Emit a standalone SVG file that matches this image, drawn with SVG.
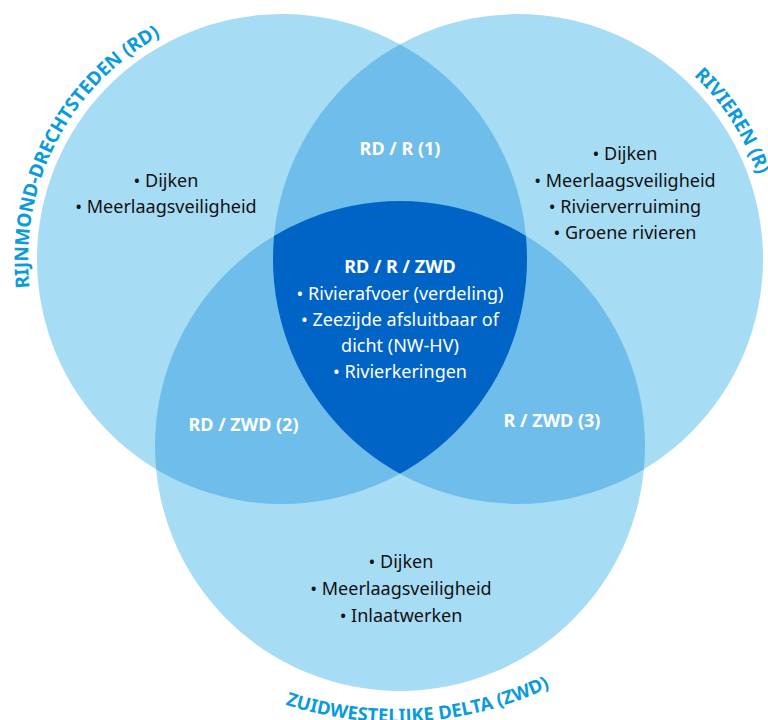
<svg xmlns="http://www.w3.org/2000/svg" width="768" height="720" viewBox="0 0 768 720">
<style>
.light{fill:#a7dcf5}
.mid{fill:#6ebdea}
.dark{fill:#0064c6}
.body{font-family:"Noto Sans","DejaVu Sans",sans-serif;font-size:18px;fill:#111;text-anchor:middle}
.wb{font-family:"Noto Sans","DejaVu Sans",sans-serif;font-size:18px;fill:#fff;text-anchor:middle}
.b{font-weight:bold}
.title{font-family:"Noto Sans","DejaVu Sans",sans-serif;font-size:19px;font-weight:bold;fill:#0a9bdb}
</style>
<defs>
<clipPath id="cL"><circle cx="282" cy="259" r="245"/></clipPath>
<clipPath id="cR"><circle cx="518" cy="259" r="245"/></clipPath>
<path id="arcL" d="M 31.9 303.1 A 254 254 0 0 1 195.1 20.3"/>
<path id="arcR" d="M 645 39 A 254 254 0 0 1 772 259"/>
<path id="arcB" d="M 122.5 594.5 A 357 357 0 0 0 669.5 594.5"/>
</defs>
<g id="circles">
<circle class="light" cx="282" cy="259" r="245"/>
<circle class="light" cx="518" cy="259" r="245"/>
<circle class="light" cx="400" cy="446" r="245"/>
<circle class="mid" cx="518" cy="259" r="245" clip-path="url(#cL)"/>
<circle class="mid" cx="400" cy="446" r="245" clip-path="url(#cL)"/>
<circle class="mid" cx="400" cy="446" r="245" clip-path="url(#cR)"/>
<g clip-path="url(#cL)"><circle class="dark" cx="400" cy="446" r="245" clip-path="url(#cR)"/></g>
</g>
<g id="rd">
<text class="title"><textPath href="#arcL" startOffset="166" text-anchor="middle">RIJNMOND-DRECHTSTEDEN (RD)</textPath></text>
<text class="body" x="166" y="187">• Dijken</text>
<text class="body" x="166" y="213">• Meerlaagsveiligheid</text>
</g>
<g id="r">
<text class="title"><textPath href="#arcR" startOffset="61">RIVIEREN (R)</textPath></text>
<text class="body" x="625" y="160">• Dijken</text>
<text class="body" x="625" y="187">• Meerlaagsveiligheid</text>
<text class="body" x="625" y="213">• Rivierverruiming</text>
<text class="body" x="625" y="239">• Groene rivieren</text>
</g>
<g id="zwd">
<text class="title" style="font-size:18.5px"><textPath href="#arcB" startOffset="334.6" text-anchor="middle">ZUIDWESTELIJKE DELTA (ZWD)</textPath></text>
<text class="body" x="401" y="568">• Dijken</text>
<text class="body" x="401" y="595">• Meerlaagsveiligheid</text>
<text class="body" x="401" y="622">• Inlaatwerken</text>
</g>
<g id="rd-r"><text class="wb b" x="400" y="155">RD / R (1)</text></g>
<g id="rd-zwd"><text class="wb b" x="243.5" y="431">RD / ZWD (2)</text></g>
<g id="r-zwd"><text class="wb b" x="552" y="427">R / ZWD (3)</text></g>
<g id="rd-r-zwd">
<text class="wb b" x="400" y="273">RD / R / ZWD</text>
<text class="wb" x="400" y="300">• Rivierafvoer (verdeling)</text>
<text class="wb" x="400" y="326">• Zeezijde afsluitbaar of</text>
<text class="wb" x="400" y="352">dicht (NW-HV)</text>
<text class="wb" x="400" y="378">• Rivierkeringen</text>
</g>
</svg>
